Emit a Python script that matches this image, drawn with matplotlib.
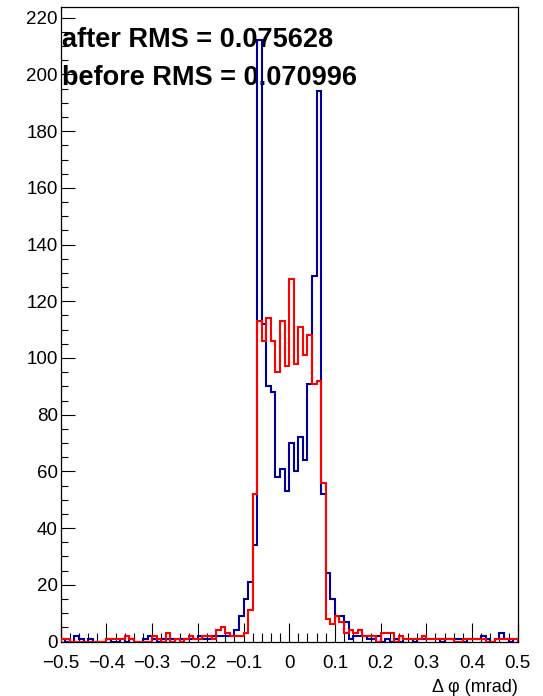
#!/usr/bin/env python3

import numpy as np
import matplotlib
matplotlib.use('Agg')
import matplotlib.pyplot as plt
from matplotlib.ticker import MultipleLocator, FixedLocator, FixedFormatter

# histogram binning (100 bins from -0.5 to 0.5 mrad)
x_lo = -0.5
x_hi = 0.5
n_bins = 100

# bin contents
counts_blue = [1, 0, 0, 2, 1, 0, 1, 0, 0, 0,
               1, 0, 0, 1, 0, 1, 0, 0, 1, 2,
               1, 0, 1, 1, 1, 1, 1, 1, 1, 1,
               2, 1, 1, 2, 2, 2, 2, 2, 4, 9,
               15, 21, 34, 212, 112, 90, 88, 58, 61, 53,
               70, 60, 72, 64, 91, 129, 194, 52, 24, 15,
               9, 9, 7, 1, 2, 2, 2, 1, 1, 2,
               0, 1, 0, 1, 0, 1, 1, 0, 1, 1,
               1, 1, 1, 0, 1, 1, 1, 1, 0, 1,
               1, 1, 2, 1, 0, 1, 3, 1, 0, 1]

counts_red = [1, 1, 0, 0, 0, 0, 0, 0, 0, 0,
              1, 1, 1, 1, 2, 1, 0, 0, 0, 0,
              2, 1, 0, 3, 0, 1, 0, 1, 2, 1,
              1, 2, 2, 1, 4, 5, 3, 2, 2, 2,
              3, 11, 52, 113, 106, 114, 106, 95, 113, 97,
              128, 98, 111, 101, 108, 91, 92, 56, 8, 6,
              9, 7, 3, 4, 3, 4, 2, 2, 2, 0,
              3, 3, 3, 0, 2, 1, 1, 1, 1, 2,
              1, 1, 1, 1, 1, 1, 0, 0, 1, 1,
              1, 1, 1, 0, 0, 1, 1, 1, 1, 1]

xtick_values = [-0.5, -0.4, -0.3, -0.2, -0.1, 0.0, 0.1, 0.2, 0.3, 0.4, 0.5]
xtick_labels = ['\u22120.5', '\u22120.4', '\u22120.3', '\u22120.2', '\u22120.1', '0',
                '0.1', '0.2', '0.3', '0.4', '0.5']
ytick_values = [0, 20, 40, 60, 80, 100, 120, 140, 160, 180, 200, 220]

text_after = 'after RMS = 0.075628'
text_before = 'before RMS = 0.070996'
x_title = '\u0394 \u03c6 (mrad)'

W, H = 543, 696


def main():
    plt.rcParams['font.family'] = ['Liberation Sans', 'DejaVu Sans']
    fig = plt.figure(figsize=(W/100, H/100), dpi=100)
    ax = fig.add_axes([60.7/W, 1 - 641.5/H, 457/W, 634.5/H])

    edges = np.linspace(x_lo, x_hi, n_bins + 1)
    ax.stairs(counts_blue, edges, color='#000099', linewidth=1.5, baseline=0, zorder=2)
    ax.stairs(counts_red, edges, color='#ff0000', linewidth=1.5, baseline=0, zorder=3)

    ax.set_xlim(x_lo, x_hi)
    ax.set_ylim(0, 223.8)

    ax.xaxis.set_major_locator(FixedLocator(xtick_values))
    ax.xaxis.set_major_formatter(FixedFormatter(xtick_labels))
    ax.xaxis.set_minor_locator(MultipleLocator(0.02))
    ax.yaxis.set_major_locator(FixedLocator(ytick_values))
    ax.yaxis.set_minor_locator(MultipleLocator(5))

    ax.tick_params(which='both', direction='in', top=False, right=False, width=0.8, colors='black')
    ax.tick_params(axis='x', which='major', length=13.7, pad=9.5, labelsize=13.5)
    ax.tick_params(axis='x', which='minor', length=6.8)
    ax.tick_params(axis='y', which='major', length=9.9, pad=2, labelsize=13.5)
    ax.tick_params(axis='y', which='minor', length=4.9)
    for s in ax.spines.values():
        s.set_linewidth(0.9)
        s.set_color('black')

    ax.text(61.7/W, 1 - 46.7/H, text_after, transform=fig.transFigure, fontsize=19.5,
            fontweight='bold', ha='left', va='baseline', zorder=1)
    ax.text(61.7/W, 1 - 85/H, text_before, transform=fig.transFigure, fontsize=19.5,
            fontweight='bold', ha='left', va='baseline', zorder=1)

    fig.text(517.5/W, 1 - 688/H, x_title, fontsize=13, ha='right', va='center')

    plt.savefig('out.png', dpi=100)
    plt.close()


if __name__ == '__main__':
    main()
